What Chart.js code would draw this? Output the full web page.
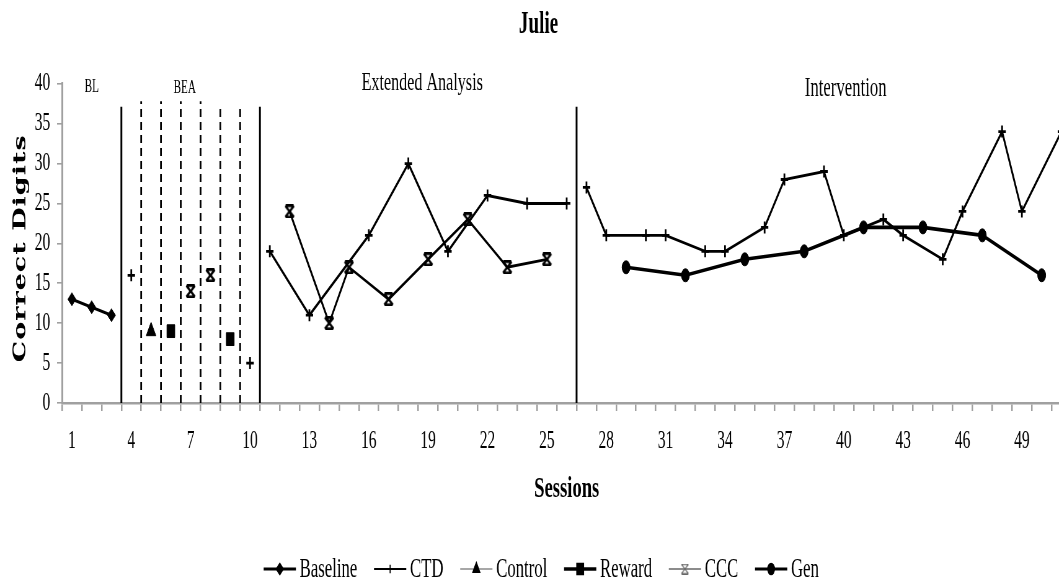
<!DOCTYPE html>
<html>
<head>
<meta charset="utf-8">
<title>Julie</title>
<script src="https://cdn.jsdelivr.net/npm/chart.js@4.4.1/dist/chart.umd.min.js"></script>
<style>
  html, body { margin:0; padding:0; background:#fff; overflow:hidden; }
  #wrap { width:1059px; height:581px; overflow:hidden; position:relative; background:#fff; }
  /* the source graph is squeezed sideways, so the whole canvas is too */
  #chart { position:absolute; left:0; top:0; transform:scaleX(0.62); transform-origin:0 0; }
</style>
</head>
<body>
<div id="wrap"><canvas id="chart" width="1743" height="581"></canvas></div>
<script>
// sessions (x) and correct digits (y) per condition
const baselineSessions = [1, 2, 3];
const baselineValues   = [13, 12, 11];

const ctdSessions = [4, 10, 11, 13, 16, 18, 20, 22, 24, 26, 27, 28, 30, 31, 33, 34, 36, 37, 39, 40, 42, 43, 45, 46, 48, 49, 51];
const ctdValues   = [16, 5, 19, 11, 21, 30, 19, 26, 25, 25, 27, 21, 21, 21, 19, 19, 22, 28, 29, 21, 23, 21, 18, 24, 34, 24, 34];

const controlSessions = [5];
const controlValues   = [9];

const rewardSessions = [6, 9];
const rewardValues   = [9, 8];

const cccSessions = [7, 8, 12, 14, 15, 17, 19, 21, 23, 25];
const cccValues   = [14, 16, 24, 10, 17, 13, 18, 23, 17, 18];

const genSessions = [29, 32, 35, 38, 41, 44, 47, 50];
const genValues   = [17, 16, 18, 19, 22, 22, 21, 16];

const sessionLabels = [1, 4, 7, 10, 13, 16, 19, 22, 25, 28, 31, 34, 37, 40, 43, 46, 49];

// phase change lines (solid) and BEA condition lines (dashed)
const phaseLines = [3.5, 10.5, 26.5];
const conditionLines = [4.5, 5.5, 6.5, 7.5, 8.5, 9.5];
const phaseNames = ['BL', 'BEA', 'Extended Analysis', 'Intervention'];

Chart.defaults.font.family = '"Liberation Serif", "Times New Roman", serif';
Chart.defaults.color = '#000';

const AXIS = '#a0a0a0';
const tickFont = { size: 25 };

// lines never cross a phase / condition line
const breaks = phaseLines.concat(conditionLines);
function toPoints(sessions, values){
  const pts = [];
  sessions.forEach((s, i) => {
    if (i > 0){
      const b = breaks.find(v => v > sessions[i-1] && v < s);
      if (b !== undefined) pts.push({ x: b, y: null });
    }
    pts.push({ x: s, y: values[i] });
  });
  return pts;
}

// excel style "star" marker: an X closed top and bottom
function hourglass(w, h, lw, color){
  const c = document.createElement('canvas');
  c.width = w; c.height = h;
  const g = c.getContext('2d');
  g.strokeStyle = color; g.lineWidth = lw;
  const p = lw / 2;
  g.beginPath();
  g.moveTo(p, p); g.lineTo(w - p, h - p);
  g.moveTo(w - p, p); g.lineTo(p, h - p);
  g.moveTo(p + 1, p); g.lineTo(w - p - 1, p);
  g.moveTo(p + 1, h - p); g.lineTo(w - p - 1, h - p);
  g.stroke();
  return c;
}
const cccMark = hourglass(17, 14, 2.8, '#000');
const cccLegendMark = hourglass(13, 11, 1.4, '#666');

function series(label, sessions, values, style){
  return Object.assign({
    label, data: toPoints(sessions, values),
    borderColor:'#000', backgroundColor:'#000',
    pointBackgroundColor:'#000', pointBorderColor:'#000',
    pointHoverRadius: 0, tension:0, spanGaps:false
  }, style);
}

const datasets = [
  series('Baseline', baselineSessions, baselineValues, { borderWidth:3.2, pointStyle:'rectRot', pointRadius:6.5, pointBorderWidth:1 }),
  series('CTD', ctdSessions, ctdValues, { borderWidth:2.9, pointStyle:'cross', pointRadius:6, pointBorderWidth:2.8 }),
  series('Control', controlSessions, controlValues, { borderWidth:1.6, borderColor:'#8a8a8a', pointStyle:'triangle', pointRadius:9, pointBorderWidth:1 }),
  series('Reward', rewardSessions, rewardValues, { borderWidth:3.5, pointStyle:'rect', pointRadius:9, pointBorderWidth:1 }),
  series('CCC', cccSessions, cccValues, { borderWidth:2.9, pointStyle:cccMark, pointRadius:7 }),
  series('Gen', genSessions, genValues, { borderWidth:3.6, pointStyle:'circle', pointRadius:6.5, pointBorderWidth:1 })
];

// tick marks sit between sessions, labels on every third session
const tickValues = [];
for (let v = 0.5; v <= 51.5; v += 0.5) tickValues.push(v);

const phasePlugin = {
  id: 'phases',
  beforeDatasetsDraw(chart){
    const { ctx, scales:{ x, y } } = chart;
    const y0 = y.getPixelForValue(0);
    ctx.save();
    ctx.strokeStyle = '#000';
    ctx.lineWidth = 3;
    phaseLines.forEach(v => {
      const px = x.getPixelForValue(v);
      ctx.beginPath(); ctx.moveTo(px, y0); ctx.lineTo(px, y.getPixelForValue(37.1)); ctx.stroke();
    });
    ctx.lineWidth = 2.8;
    ctx.setLineDash([8, 5]);
    conditionLines.forEach((v, i) => {
      const px = x.getPixelForValue(v);
      ctx.beginPath(); ctx.moveTo(px, y0); ctx.lineTo(px, y.getPixelForValue(i < 4 ? 37.8 : 37)); ctx.stroke();
    });
    ctx.setLineDash([]);

    // phase names above the chart area
    const spots = [
      { at: 2,    level: 39.5, size: 18 },
      { at: 6.7,  level: 39.4, size: 18 },
      { at: 18.7, level: 40.1, size: 26 },
      { at: 40.1, level: 39.3, size: 27 }
    ];
    ctx.fillStyle = '#000';
    ctx.textAlign = 'center';
    ctx.textBaseline = 'middle';
    phaseNames.forEach((name, i) => {
      const s = spots[i];
      ctx.font = s.size + 'px "Liberation Serif"';
      ctx.fillText(name, x.getPixelForValue(s.at), y.getPixelForValue(s.level));
    });

    // y axis title
    const { top, bottom } = chart.chartArea;
    ctx.translate(34, (top + bottom) / 2 + 5);
    ctx.rotate(-Math.PI / 2);
    ctx.font = 'bold 27px "DejaVu Serif"';
    ctx.letterSpacing = '1px';
    ctx.fillText('Correct Digits', 0, 0);
    ctx.restore();
  }
};

// legend row: short line with the marker, then the name
const legendLook = {
  Baseline: { width:3 },
  CTD: { width:1.8 },
  Control: { width:1.6, color:'#8a8a8a' },
  Reward: { width:3.5 },
  CCC: { width:1.6, color:'#666', marker: cccLegendMark },
  Gen: { width:3.2 }
};
const legendPlugin = {
  id: 'bottomLegend',
  afterDraw(chart){
    const ctx = chart.ctx;
    const lineLen = 52, textGap = 6, itemGap = 27, yc = 569, center = 873;
    ctx.save();
    ctx.font = '27px "Liberation Serif"';
    const items = chart.data.datasets.map(ds => ({ ds, w: lineLen + textGap + ctx.measureText(ds.label).width }));
    const total = items.reduce((a, it) => a + it.w, 0) + itemGap * (items.length - 1);
    let x0 = center - total / 2;
    items.forEach(it => {
      const ds = it.ds, look = legendLook[ds.label] || {};
      const col = look.color || '#000';
      ctx.strokeStyle = col;
      ctx.lineWidth = look.width;
      ctx.beginPath(); ctx.moveTo(x0, yc); ctx.lineTo(x0 + lineLen, yc); ctx.stroke();
      ctx.strokeStyle = '#000'; ctx.fillStyle = '#000';
      Chart.helpers.drawPoint(ctx, {
        pointStyle: look.marker || ds.pointStyle,
        radius: ds.pointRadius * 0.72,
        borderWidth: ds.pointStyle === 'cross' ? 1.6 : 1,
        rotation: 0
      }, x0 + lineLen / 2, yc);
      ctx.textAlign = 'left'; ctx.textBaseline = 'middle';
      ctx.fillText(ds.label, x0 + lineLen + textGap, yc + 1);
      x0 += it.w + itemGap;
    });
    ctx.restore();
  }
};

new Chart(document.getElementById('chart'), {
  type: 'line',
  data: { datasets },
  options: {
    responsive: false,
    animation: false,
    layout: { padding: { left: 0, right: 6, top: 0, bottom: 74 } },
    plugins: {
      legend: { display: false },
      tooltip: { enabled: false },
      title: {
        display: true, text: 'Julie', color: '#000',
        font: { size: 31, weight: 'bold' },
        padding: { top: 6, bottom: 40.5 }
      }
    },
    scales: {
      x: {
        type: 'linear', min: 0.5, max: 51.5,
        afterBuildTicks: s => { s.ticks = tickValues.map(v => ({ value: v })); },
        ticks: {
          autoSkip: false, maxRotation: 0, padding: 15, font: tickFont,
          callback: v => sessionLabels.includes(v) ? String(v) : ''
        },
        grid: {
          drawOnChartArea: false, tickLength: 8, lineWidth: 2.5,
          color: c => (c.tick && c.tick.value % 1 === 0) ? 'rgba(0,0,0,0)' : AXIS
        },
        border: { color: AXIS, width: 2.5 },
        title: {
          display: true, text: 'Sessions',
          font: { size: 30, weight: 'bold' },
          padding: { top: 0, bottom: 0 }
        }
      },
      y: {
        min: 0, max: 40,
        ticks: { stepSize: 5, padding: 11, font: tickFont },
        grid: { drawOnChartArea: false, tickLength: 8, lineWidth: 1.6, color: AXIS },
        border: { color: AXIS, width: 3 },
        afterFit: s => { s.width = 100; }
      }
    }
  },
  plugins: [phasePlugin, legendPlugin]
});
</script>
</body>
</html>
